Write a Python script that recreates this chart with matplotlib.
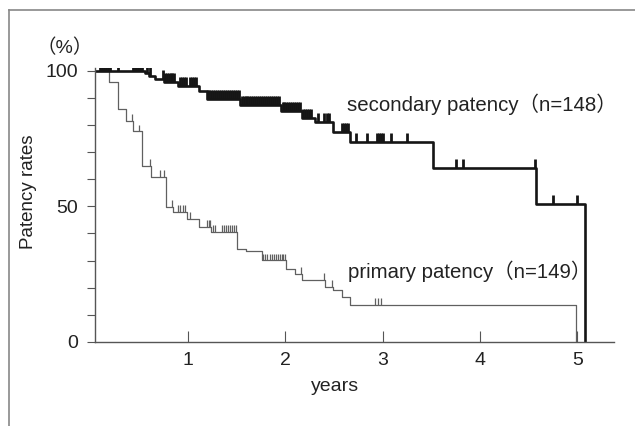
import numpy as np
import matplotlib
matplotlib.use("Agg")
import matplotlib.pyplot as plt
from matplotlib.lines import Line2D

plt.rcParams['font.family'] = ['Liberation Sans', 'Noto Sans CJK JP', 'DejaVu Sans']

# secondary patency (n=148): step times (years) and survival (%)
sec_t = [0, 0.56, 0.60, 0.66, 0.75, 0.90, 1.11, 1.19, 1.53, 1.95, 2.17, 2.30, 2.49, 2.66, 3.52, 4.57, 5.08]
sec_s = [100, 99, 98, 97, 95.7, 94.5, 92.6, 89.5, 87.2, 85.0, 82.5, 81.0, 77.3, 73.6, 64.0, 51.0, 0]
sec_cens = [0.10, 0.12, 0.14, 0.16, 0.18, 0.20, 0.28,
            0.43, 0.45, 0.47, 0.49, 0.51, 0.53, 0.58, 0.61,
            0.74, 0.76, 0.78, 0.80, 0.82, 0.84, 0.86,
            0.92, 0.94, 0.96, 0.98, 1.02, 1.04, 1.06, 1.08,
            1.20, 1.22, 1.24, 1.26, 1.28, 1.30, 1.32, 1.34, 1.36, 1.38, 1.40,
            1.42, 1.44, 1.46, 1.48, 1.50, 1.52,
            1.55, 1.57, 1.59, 1.61, 1.63, 1.65, 1.67, 1.69, 1.71, 1.73,
            1.75, 1.77, 1.79, 1.81, 1.83, 1.85, 1.87, 1.89, 1.91, 1.93,
            1.97, 1.99, 2.01, 2.03, 2.05, 2.07, 2.09, 2.11, 2.13, 2.15,
            2.18, 2.20, 2.22, 2.24, 2.26, 2.33, 2.40, 2.43, 2.45,
            2.58, 2.60, 2.62, 2.64,
            2.72, 2.84, 2.94, 2.96, 2.98, 3.00, 3.08, 3.25,
            3.75, 3.82, 4.56, 4.75, 5.00]

# primary patency (n=149)
pri_t = [0, 0.19, 0.28, 0.36, 0.43, 0.53, 0.62, 0.77, 0.85, 0.99, 1.11, 1.24, 1.50, 1.59,
         1.76, 2.01, 2.10, 2.17, 2.41, 2.49, 2.58, 2.66, 4.98]
pri_s = [100, 95.7, 86, 81.6, 77.6, 65, 60.8, 49.8, 47.9, 45.5, 42.4, 40.5, 34.4, 33.6,
         30.1, 27.0, 25.2, 22.8, 20.3, 19.1, 16.7, 13.6, 0]
pri_cens = [0.42, 0.50, 0.61, 0.71, 0.75, 0.84, 0.90, 0.92, 0.95, 0.97, 1.02,
            1.19, 1.21, 1.23, 1.26, 1.28,
            1.35, 1.37, 1.39, 1.41, 1.43, 1.45, 1.47, 1.49,
            1.77, 1.79, 1.81, 1.84, 1.86, 1.88, 1.90, 1.92, 1.94, 1.96, 1.98, 2.00,
            2.16, 2.40, 2.48, 2.92, 2.95, 2.98]

x_ticks = [1, 2, 3, 4, 5]
y_labels = [0, 50, 100]


def level_at(times, surv, c):
    i = np.searchsorted(np.array(times), np.array(c), side='right') - 1
    return np.array(surv)[i]


fig = plt.figure(figsize=(6.35, 4.26), dpi=100)
ax = fig.add_axes([95/635, 84/426, 519/635, 274/426])

ax.step(pri_t, pri_s, where='post', color='#606060', lw=0.9)
pl = level_at(pri_t, pri_s, pri_cens)
ax.vlines(pri_cens, pl, pl + 2.5, color='#606060', lw=0.9)

ax.step(sec_t, sec_s, where='post', color='#151515', lw=1.9)
sl = level_at(sec_t, sec_s, sec_cens)
ax.vlines(sec_cens, sl, sl + 3.3, color='#151515', lw=2.0)

ax.set_xlim(0.044, 5.375)
ax.set_ylim(0, 101)
for s in ['top', 'right']:
    ax.spines[s].set_visible(False)
for s in ['left', 'bottom']:
    ax.spines[s].set_color('#555555')
    ax.spines[s].set_linewidth(1.0)

ax.set_xticks(x_ticks)
ax.set_xticklabels([str(v) for v in x_ticks], fontsize=14, color='#222222')
ax.tick_params(axis='x', direction='in', length=8, width=0.8, color='#555555', pad=7)
ax.set_yticks(np.arange(0, 101, 10))
ax.set_yticklabels([str(v) if v in y_labels else '' for v in range(0, 101, 10)],
                   fontsize=14, color='#222222')
ax.tick_params(axis='y', direction='out', length=6, width=0.8, color='#555555', pad=6)

ax.set_xlabel('years', fontsize=14, color='#222222')
ax.xaxis.set_label_coords((335 - 95) / 519, -(378 - 342) / 274)
ax.set_ylabel('Patency rates', fontsize=13.5, color='#222222')
ax.yaxis.set_label_coords((37 - 95) / 519, (342 - 192) / 274)

ax.text(2.63, 85.3, 'secondary patency（n=148）', fontsize=14.7, color='#222222', va='baseline')
ax.text(2.64, 23.5, 'primary patency（n=149）', fontsize=14.7, color='#222222', va='baseline')
fig.text(65/635, 1 - 48/426, '（%）', fontsize=14, color='#222222', ha='center', va='center')

# outer frame
fig.add_artist(Line2D([9/635, 1], [1 - 10/426, 1 - 10/426], color='#888888', lw=1.2))
fig.add_artist(Line2D([9/635, 9/635], [0, 1 - 10/426], color='#888888', lw=1.2))

fig.savefig('out.png', dpi=100)
